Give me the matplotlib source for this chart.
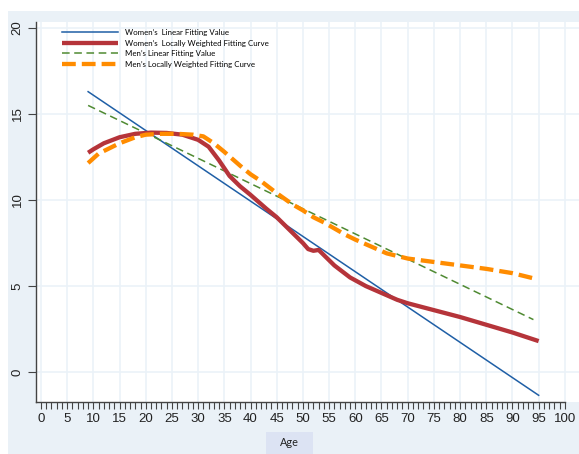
import matplotlib
matplotlib.use("Agg")
import matplotlib.pyplot as plt
from matplotlib.patches import Rectangle
import numpy as np

# Data
women_lin_x = [9, 95]
women_lin_y = [16.3, -1.35]
men_lin_x = [9, 94]
men_lin_y = [15.5, 3.05]

women_low_x = [9, 10, 12, 15, 18, 21, 24, 27, 30, 32, 34, 36, 38, 40, 43, 45, 48, 50, 51, 52, 53, 54, 56, 59, 62, 65, 68, 70, 75, 80, 85, 90, 95]
women_low_y = [12.75, 12.95, 13.3, 13.65, 13.85, 13.92, 13.9, 13.8, 13.5, 13.1, 12.3, 11.4, 10.8, 10.3, 9.5, 9.0, 8.1, 7.5, 7.15, 7.05, 7.1, 6.8, 6.2, 5.5, 5.0, 4.6, 4.2, 4.0, 3.6, 3.2, 2.75, 2.3, 1.8]

men_low_x = [9, 11, 13, 15, 18, 20, 23, 26, 29, 31, 33, 35, 38, 40, 42, 45, 48, 50, 52, 54, 56, 58, 60, 63, 66, 70, 75, 80, 85, 90, 94]
men_low_y = [12.15, 12.7, 13.0, 13.3, 13.65, 13.8, 13.85, 13.85, 13.8, 13.7, 13.3, 12.8, 12.0, 11.5, 11.1, 10.4, 9.75, 9.4, 9.0, 8.7, 8.35, 8.0, 7.7, 7.3, 6.9, 6.6, 6.4, 6.2, 6.0, 5.75, 5.45]

labels = ["Women\u2019s  Linear Fitting Value",
          "Women\u2019s  Locally Weighted Fitting Curve",
          "Men\u2019s Linear Fitting Value",
          "Men\u2019s Locally Weighted Fitting Curve"]
x_ticks = list(range(0, 101, 5))
y_ticks = [0, 5, 10, 15, 20]
x_label = "Age"

W, H = 579, 454
fig = plt.figure(figsize=(W / 100, H / 100), dpi=100, facecolor="white")
# light blue background panel
fig.patches.append(Rectangle((8 / W, 0), 1 - 8 / W, (H - 11) / H, transform=fig.transFigure,
                             facecolor="#eaf1f7", edgecolor="none", zorder=-10))

ax = fig.add_axes([36 / W, (H - 402) / H, 1 - 36 / W, (402 - 22) / H])
ax.set_zorder(5)
ax.set_facecolor("white")
ax.set_xlim(-0.95, 102.7)
ax.set_ylim(-1.74, 20.35)

grid_c = "#ebf2f8"
for xv in x_ticks:
    ax.axvline(xv, color=grid_c, lw=1.2, zorder=0)
for yv in y_ticks:
    ax.axhline(yv, color=grid_c, lw=1.2, zorder=0)

ax.plot(women_lin_x, women_lin_y, color="#1f5fa6", lw=1.1, label=labels[0], zorder=3)
ax.plot(women_low_x, women_low_y, color="#b5343a", lw=3.1, label=labels[1], zorder=4,
        solid_capstyle="butt")
ax.plot(men_lin_x, men_lin_y, color="#4f8a32", lw=1.1, ls=(0, (5, 3)), label=labels[2], zorder=3)
ax.plot(men_low_x, men_low_y, color="#ff8c00", lw=3.1, ls=(0, (3.2, 1.4)), label=labels[3], zorder=5)

ax.set_xticks(x_ticks)
ax.set_xticks(list(range(0, 101)), minor=True)
ax.set_yticks(y_ticks)
ax.tick_params(axis="x", which="both", length=5, width=0.8, color="#444444",
               labelsize=9.5, pad=3)
ax.tick_params(axis="y", which="major", length=6, width=0.8, color="#444444",
               labelsize=9.5, pad=3)
for lab in ax.get_xticklabels() + ax.get_yticklabels():
    lab.set_fontfamily("Liberation Sans")
    lab.set_color("#222222")
for lab in ax.get_yticklabels():
    lab.set_rotation(90)
    lab.set_va("center")

for s in ["top", "right"]:
    ax.spines[s].set_visible(False)
for s in ["left", "bottom"]:
    ax.spines[s].set_color("#444444")
    ax.spines[s].set_linewidth(1.0)
ax.spines["bottom"].set_bounds(-0.95, 100)

leg = ax.legend(loc="upper left", bbox_to_anchor=(0.035, 1.0), frameon=False,
                prop={"family": "Lato", "size": 5.7}, handlelength=7.0,
                handletextpad=1.0, labelspacing=0.45, borderaxespad=0.5)

# Age label box
bw, bh = 47, 22
fig.patches.append(Rectangle(((W / 2 - bw / 2) / W, 0), bw / W, bh / H, transform=fig.transFigure,
                             facecolor="#dce3f3", edgecolor="none", zorder=-5))
fig.text(0.5, 11 / H, x_label, ha="center", va="center", fontsize=7.8, family="Lato",
         color="#222222")

fig.savefig("out.png", dpi=100, facecolor=fig.get_facecolor())
